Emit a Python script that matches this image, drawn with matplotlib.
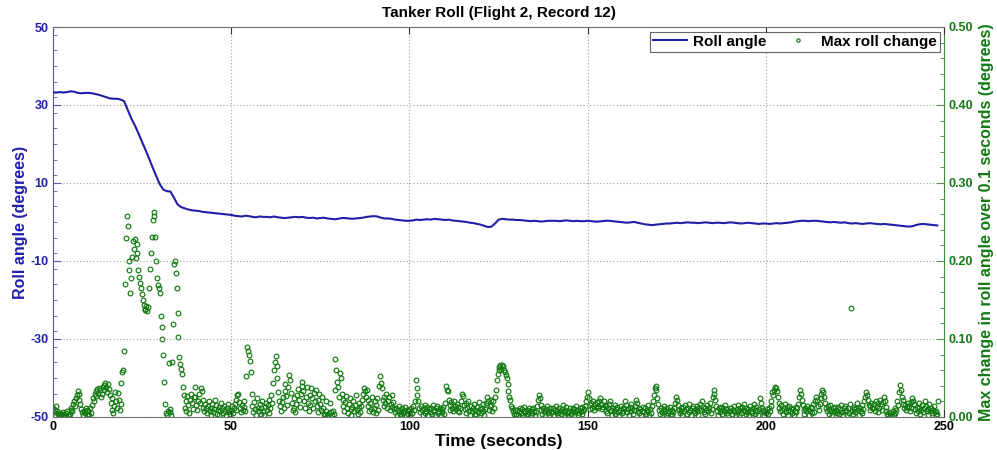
import numpy as np
import matplotlib
matplotlib.use("Agg")
import matplotlib.pyplot as plt
from matplotlib.ticker import MultipleLocator, FormatStrFormatter

plt.rcParams['font.family'] = ['Liberation Sans', 'DejaVu Sans']
plt.rcParams['axes.unicode_minus'] = False

# Roll angle (degrees), sampled once per second
roll_dt = 1.0
roll_angle = [
    33.2, 33.2, 33.3, 33.2, 33.3, 33.5, 33.4, 33.1, 33.0, 33.1,
    33.1, 33.0, 32.8, 32.6, 32.3, 32.0, 31.7, 31.6, 31.6, 31.4,
    31.0, 28.8, 26.6, 24.8, 22.8, 20.6, 18.5, 16.3, 14.0, 11.8,
    9.7, 8.3, 7.9, 7.8, 6.2, 4.5, 3.8, 3.5, 3.2, 3.0,
    2.9, 2.8, 2.6, 2.5, 2.4, 2.3, 2.2, 2.1, 2.0, 1.9,
    1.8, 1.6, 1.5, 1.4, 1.6, 1.5, 1.3, 1.2, 1.4, 1.3,
    1.3, 1.2, 1.4, 1.2, 1.1, 1.0, 1.1, 1.2, 1.3, 1.2,
    1.3, 1.1, 1.0, 1.1, 0.9, 1.0, 1.1, 0.9, 0.8, 0.7,
    0.8, 1.0, 1.0, 0.9, 0.8, 0.9, 1.0, 1.1, 1.3, 1.4,
    1.5, 1.4, 1.1, 0.9, 0.9, 0.8, 0.6, 0.5, 0.4, 0.3,
    0.3, 0.4, 0.6, 0.5, 0.6, 0.7, 0.6, 0.8, 0.7, 0.6,
    0.5, 0.6, 0.4, 0.3, 0.2, 0.1, 0.0, -0.2, -0.3, -0.5,
    -0.7, -1.0, -1.3, -1.2, -0.4, 0.6, 0.8, 0.7, 0.6, 0.6,
    0.5, 0.5, 0.4, 0.3, 0.2, 0.3, 0.2, 0.1, 0.2, 0.3,
    0.3, 0.3, 0.2, 0.3, 0.4, 0.3, 0.2, 0.3, 0.2, 0.2,
    0.3, 0.2, 0.1, 0.1, 0.2, 0.3, 0.3, 0.2, 0.1, 0.0,
    -0.1, -0.2, -0.1, 0.0, -0.2, -0.4, -0.6, -0.7, -0.8, -0.7,
    -0.6, -0.5, -0.4, -0.4, -0.3, -0.2, -0.3, -0.2, -0.1, -0.2,
    -0.2, -0.3, -0.2, -0.1, -0.2, -0.3, -0.2, -0.2, -0.3, -0.2,
    -0.1, -0.2, -0.3, -0.4, -0.3, -0.2, -0.3, -0.4, -0.5, -0.4,
    -0.4, -0.5, -0.4, -0.3, -0.4, -0.3, -0.2, -0.1, 0.1, 0.2,
    0.3, 0.3, 0.2, 0.3, 0.3, 0.2, 0.1, 0.0, -0.1, 0.0,
    -0.1, -0.2, -0.1, -0.3, -0.4, -0.3, -0.4, -0.5, -0.4, -0.3,
    -0.4, -0.5, -0.6, -0.5, -0.6, -0.7, -0.8, -0.9, -1.0, -1.1,
    -1.2, -1.1, -0.8, -0.6, -0.5, -0.6, -0.7, -0.8, -0.9,
]

# Max change in roll angle over 0.1 s, in thousandths of a degree,
# one value every 0.25 s (two rows cover 10 s)
change_dt = 0.25
max_change_mdeg = [
    12, 6, 3, 9, 14, 8, 4, 2, 5, 2, 4, 1, 6, 3, 2, 5, 7, 3, 1, 4,
    9, 12, 7, 16, 20, 14, 24, 28, 33, 30, 22, 17, 10, 6, 3, 8, 5, 12, 9, 4,
    7, 3, 11, 5, 15, 24, 20, 29, 33, 27, 36, 31, 37, 34, 25, 30, 38, 41, 35, 43,
    39, 32, 42, 36, 28, 18, 9, 24, 5, 14, 32, 21, 12, 31, 22, 9, 17, 43, 58, 60,
    85, 171, 230, 258, 245, 200, 188, 159, 178, 205, 226, 215, 228, 204, 222, 210, 188, 180, 172, 165,
    158, 150, 144, 139, 137, 142, 136, 141, 165, 190, 210, 231, 252, 263, 258, 231, 200, 178, 169, 165,
    159, 130, 115, 100, 80, 45, 17, 5, 3, 8, 69, 6, 10, 2, 71, 119, 196, 200, 184, 165,
    133, 103, 77, 68, 62, 55, 39, 28, 12, 20, 8, 27, 15, 5, 22, 30, 18, 10, 25, 39,
    26, 15, 9, 21, 30, 18, 37, 33, 22, 12, 7, 16, 11, 5, 14, 20, 8, 3, 12, 17,
    6, 10, 22, 15, 4, 9, 13, 2, 7, 18, 11, 5, 14, 8, 3, 12, 6, 16, 9, 4,
    8, 14, 5, 11, 17, 9, 22, 28, 30, 19, 12, 6, 15, 9, 20, 13, 8, 53, 90, 85,
    80, 72, 57, 30, 14, 6, 19, 10, 3, 24, 12, 7, 16, 4, 11, 20, 8, 2, 13, 18,
    9, 15, 5, 22, 12, 28, 18, 43, 60, 70, 78, 65, 50, 32, 20, 14, 8, 19, 25, 12,
    33, 42, 27, 15, 38, 54, 47, 31, 18, 9, 24, 12, 6, 17, 28, 36, 22, 13, 30, 40,
    45, 33, 21, 12, 26, 38, 18, 8, 15, 28, 37, 24, 11, 31, 20, 35, 14, 6, 22, 30,
    17, 9, 25, 12, 4, 2, 7, 20, 3, 1, 5, 18, 6, 2, 8, 4, 35, 74, 60, 45,
    38, 26, 56, 50, 30, 22, 14, 8, 19, 27, 11, 5, 16, 24, 10, 3, 13, 20, 7, 15,
    28, 9, 4, 12, 18, 6, 14, 22, 30, 37, 33, 26, 35, 22, 14, 8, 18, 10, 25, 6,
    12, 20, 5, 15, 24, 9, 40, 52, 44, 37, 22, 14, 26, 18, 30, 11, 20, 25, 9, 16,
    28, 13, 19, 10, 6, 12, 3, 9, 14, 4, 8, 1, 11, 5, 7, 13, 2, 9, 4, 10,
    7, 3, 11, 5, 14, 9, 20, 47, 37, 28, 20, 12, 6, 14, 9, 3, 11, 15, 5, 8,
    13, 2, 10, 6, 12, 4, 15, 9, 7, 3, 11, 14, 5, 8, 12, 2, 6, 10, 13, 4,
    18, 40, 35, 33, 22, 15, 9, 19, 12, 7, 21, 14, 10, 17, 8, 13, 6, 11, 20, 30,
    27, 15, 10, 18, 5, 12, 20, 8, 3, 14, 7, 11, 16, 4, 9, 2, 13, 6, 19, 10,
    5, 12, 8, 16, 3, 10, 18, 26, 20, 9, 14, 22, 15, 8, 20, 12, 25, 34, 47, 55,
    60, 64, 67, 62, 66, 65, 60, 57, 54, 50, 42, 33, 26, 22, 14, 11, 7, 4, 9, 2,
    4, 9, 2, 7, 12, 5, 10, 3, 8, 13, 6, 1, 9, 4, 11, 7, 2, 10, 5, 12,
    8, 3, 6, 14, 22, 28, 24, 15, 9, 4, 12, 7, 2, 10, 14, 5, 8, 3, 11, 6,
    6, 11, 3, 9, 14, 5, 8, 2, 12, 7, 4, 10, 15, 6, 3, 9, 13, 5, 1, 8,
    11, 4, 7, 12, 2, 10, 6, 14, 9, 3, 5, 11, 8, 13, 4, 7, 10, 14, 20, 26,
    32, 24, 15, 10, 18, 12, 21, 9, 16, 13, 19, 11, 14, 20, 24, 17, 10, 13, 21, 15,
    8, 14, 5, 11, 17, 20, 9, 3, 12, 7, 15, 4, 10, 13, 6, 2, 9, 14, 5, 11,
    7, 12, 20, 15, 6, 10, 3, 13, 8, 16, 11, 4, 9, 14, 22, 18, 7, 12, 5, 10,
    2, 8, 13, 6, 11, 4, 9, 15, 7, 3, 10, 5, 14, 20, 28, 37, 40, 34, 24, 16,
    9, 4, 12, 6, 2, 10, 14, 7, 3, 11, 5, 8, 13, 4, 9, 2, 6, 12, 18, 26,
    22, 15, 9, 5, 11, 7, 3, 13, 8, 15, 10, 4, 12, 6, 17, 9, 3, 11, 14, 7,
    5, 10, 14, 8, 3, 12, 16, 9, 20, 13, 6, 11, 4, 9, 15, 7, 12, 18, 5, 10,
    26, 35, 30, 22, 14, 8, 3, 11, 6, 13, 9, 4, 12, 7, 15, 10, 5, 2, 8, 11,
    7, 12, 4, 9, 14, 6, 2, 10, 15, 8, 3, 11, 5, 13, 9, 16, 7, 4, 12, 6,
    10, 3, 14, 8, 5, 11, 17, 9, 4, 13, 7, 2, 10, 24, 18, 12, 6, 9, 3, 8,
    5, 10, 4, 12, 8, 14, 20, 32, 28, 35, 39, 37, 33, 26, 18, 12, 7, 15, 9, 4,
    11, 17, 6, 13, 3, 9, 14, 7, 12, 5, 10, 2, 8, 13, 6, 11, 16, 26, 35, 30,
    22, 15, 9, 4, 12, 7, 14, 10, 3, 8, 13, 5, 11, 17, 6, 20, 26, 22, 14, 9,
    16, 24, 30, 35, 32, 26, 18, 12, 7, 14, 4, 10, 15, 8, 3, 11, 6, 13, 9, 5,
    8, 13, 4, 10, 15, 6, 2, 11, 7, 14, 9, 3, 12, 5, 16, 140, 8, 4, 10, 13,
    6, 11, 18, 9, 3, 12, 7, 15, 5, 10, 20, 26, 32, 28, 22, 15, 9, 14, 18, 11,
    12, 17, 8, 20, 14, 6, 18, 11, 22, 16, 9, 19, 26, 21, 13, 7, 4, 2, 6, 1,
    5, 3, 7, 2, 5, 12, 9, 20, 15, 32, 41, 34, 26, 22, 17, 11, 15, 9, 13, 18,
    14, 8, 19, 12, 24, 20, 16, 10, 5, 13, 7, 18, 11, 4, 9, 15, 6, 12, 20, 14,
    8, 3, 10, 16, 7, 12, 5, 9, 14, 6, 3, 8, 4, 21,
]

title = "Tanker Roll (Flight 2, Record 12)"
x_label = "Time (seconds)"
left_label = "Roll angle (degrees)"
right_label = "Max change in roll angle over 0.1 seconds (degrees)"
line_name = "Roll angle"
point_name = "Max roll change"
left_ticks = [-50, -30, -10, 10, 30, 50]

blue = "#1f1fa8"
green = "#127a12"
axis_blue = "#5a5aa8"
axis_green = "#3c8c3c"

roll_t = np.arange(len(roll_angle)) * roll_dt
change_t = np.arange(len(max_change_mdeg)) * change_dt
max_change = np.array(max_change_mdeg) / 1000.0

fig = plt.figure(figsize=(9.97, 4.5), dpi=100)
ax = fig.add_axes([0.0529, 0.0735, 0.8944, 0.8665])
ax2 = ax.twinx()

line, = ax.plot(roll_t, roll_angle, color=blue, lw=1.5, zorder=3)
pts, = ax2.plot(change_t, max_change, linestyle='none', marker='o',
                markersize=3.4, markerfacecolor='none',
                markeredgecolor=green, markeredgewidth=0.85)
ax.set_zorder(ax2.get_zorder() + 1)
ax.patch.set_visible(False)

ax.set_xlim(0, 250)
ax.set_ylim(-50, 50)
ax2.set_ylim(0, 0.5)

ax.xaxis.set_major_locator(MultipleLocator(50))
ax.set_yticks(left_ticks)
ax.yaxis.set_minor_locator(MultipleLocator(4))
ax2.yaxis.set_major_locator(MultipleLocator(0.1))
ax2.yaxis.set_minor_locator(MultipleLocator(0.02))
ax2.yaxis.set_major_formatter(FormatStrFormatter('%.2f'))

ax.grid(True, which='major', linestyle=(0, (1, 2)), color='#a0a0a0', lw=0.8)

ax.tick_params(axis='x', which='both', direction='in', top=True, length=5,
               labelsize=9, colors='#333333', labelcolor='black', pad=3)
ax.tick_params(axis='y', which='both', left=True, right=False)
ax.tick_params(axis='y', which='major', direction='in', length=6, labelsize=9,
               colors=axis_blue, labelcolor=blue, pad=3)
ax.tick_params(axis='y', which='minor', direction='in', length=3, colors=axis_blue)
ax2.tick_params(axis='y', which='both', left=False, right=True)
ax2.tick_params(axis='y', which='major', direction='in', length=6, labelsize=9,
                colors=axis_green, labelcolor=green, pad=3)
ax2.tick_params(axis='y', which='minor', direction='in', length=3, colors=axis_green)

for lab in ax.get_xticklabels() + ax.get_yticklabels() + ax2.get_yticklabels():
    lab.set_fontweight('bold')

ax.spines['left'].set_color(axis_blue)
ax2.spines['left'].set_visible(False)
ax.spines['right'].set_visible(False)
ax2.spines['right'].set_color(axis_green)
for s in ('top', 'bottom'):
    ax.spines[s].set_color('#707070')
    ax2.spines[s].set_visible(False)

ax.set_title(title, fontsize=11, fontweight='bold', pad=7)
ax.set_xlabel(x_label, fontsize=12.5, fontweight='bold', labelpad=1)
ax.set_ylabel(left_label, fontsize=11.5, fontweight='bold', color=blue, labelpad=2)
ax2.set_ylabel(right_label, fontsize=11.5, fontweight='bold', color=green, labelpad=4)

leg = ax.legend([line, pts], [line_name, point_name], loc='upper right',
                prop={'weight': 'bold', 'size': 11}, frameon=True, fancybox=False,
                handlelength=2.2, handletextpad=0.4, columnspacing=1.0, ncol=2,
                borderpad=0.2, borderaxespad=0.3, markerscale=0.7)
leg.get_frame().set_edgecolor('#404040')
leg.get_frame().set_linewidth(0.8)

fig.savefig("out.png", dpi=100)
